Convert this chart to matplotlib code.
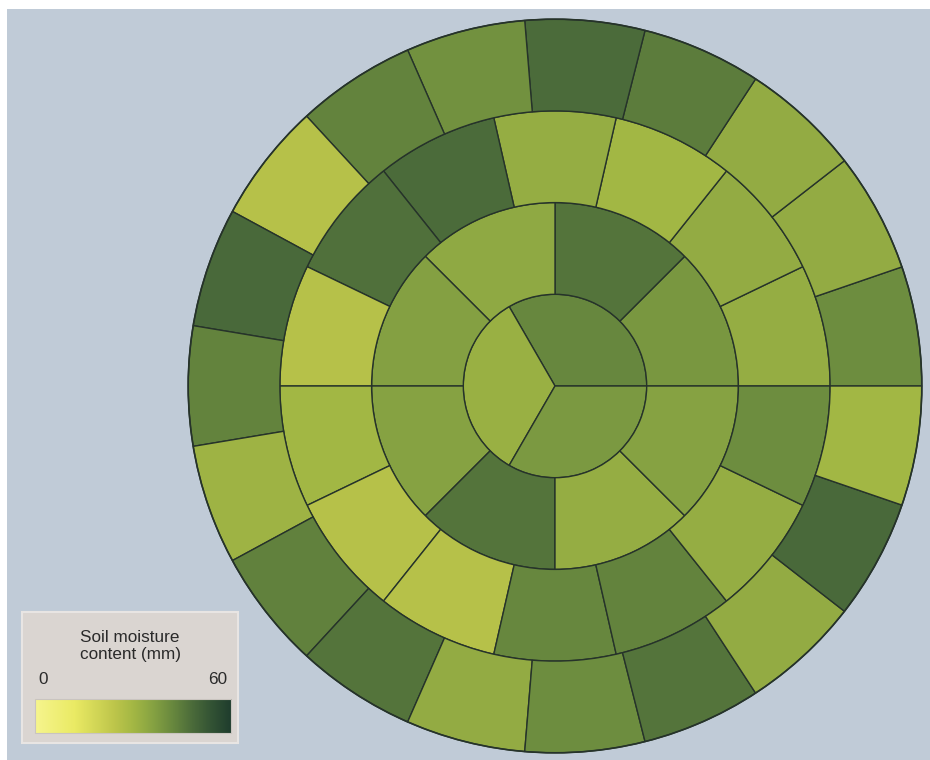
import numpy as np
import matplotlib.pyplot as plt
from matplotlib.patches import Wedge, Circle, Rectangle
from matplotlib.colors import LinearSegmentedColormap

# soil moisture (mm) per sector, ring by ring from the centre outwards;
# sectors start at the positive x axis and run counter-clockwise
ring1_values = [42, 32, 38]
ring2_values = [38.5, 46, 34, 36.5, 36, 46, 33, 36]
ring3_values = [33, 33.5, 30, 33, 48, 47, 26, 30, 26, 26, 42, 43, 33, 41]
ring4_values = [41, 33.5, 33.5, 44.5, 48, 40, 43, 26, 48.5, 43,
                31, 43.5, 46, 33.5, 41, 46, 33.5, 48.5, 30]
rings = [ring1_values, ring2_values, ring3_values, ring4_values]

vmin, vmax = 0, 60
legend_title = "Soil moisture\ncontent (mm)"

cmap = LinearSegmentedColormap.from_list("moisture", [
    (0.00, "#f6f58e"),
    (0.20, "#eaea64"),
    (0.40, "#bec64b"),
    (0.50, "#a3b744"),
    (0.60, "#86a242"),
    (0.70, "#68883e"),
    (0.80, "#4b6b3a"),
    (0.90, "#325234"),
    (1.00, "#1e3c2d"),
])

plt.rcParams['font.family'] = ['Liberation Sans', 'DejaVu Sans']

fig = plt.figure(figsize=(9.3, 7.6), dpi=100)
fig.patch.set_facecolor("white")
ax = fig.add_axes([0, 0, 1, 1])
ax.set_xlim(0, 930)
ax.set_ylim(0, 760)
ax.set_aspect("equal")
ax.axis("off")

# backdrop
ax.add_patch(Rectangle((7, 0), 923, 751, facecolor="#c0cbd7", edgecolor="none", zorder=0))

cx, cy = 555, 374
ring_width = 91.7
edge = "#26332a"

for i, values in enumerate(rings):
    r_out = ring_width * (i + 1)
    step = 360 / len(values)
    for j, v in enumerate(values):
        color = cmap((v - vmin) / (vmax - vmin))
        ax.add_patch(Wedge((cx, cy), r_out, j * step, (j + 1) * step,
                           width=ring_width, facecolor=color,
                           edgecolor=edge, linewidth=1.0, zorder=2))

ax.add_patch(Circle((cx, cy), ring_width * 4, facecolor="none",
                    edgecolor=edge, linewidth=1.2, zorder=3))

# legend box with colour scale
ax.add_patch(Rectangle((22, 17), 216, 131, facecolor="#dad5d1",
                       edgecolor="#e8e5e3", linewidth=1.5, zorder=4))
gradient = np.linspace(0, 1, 256).reshape(1, -1)
ax.imshow(gradient, cmap=cmap, extent=(35, 231, 27, 61), aspect="auto", zorder=5)
ax.add_patch(Rectangle((35, 27), 196, 34, facecolor="none",
                       edgecolor="#c9c4bf", linewidth=0.8, zorder=6))
ax.text(130, 114, legend_title, ha="center", va="center", fontsize=12.3,
        color="#2a2a2a", linespacing=1.2, zorder=6)
ax.text(43, 81, str(vmin), ha="center", va="center", fontsize=12.3, color="#2a2a2a", zorder=6)
ax.text(218, 81, str(vmax), ha="center", va="center", fontsize=12.3, color="#2a2a2a", zorder=6)

fig.savefig("out.png", dpi=100)
